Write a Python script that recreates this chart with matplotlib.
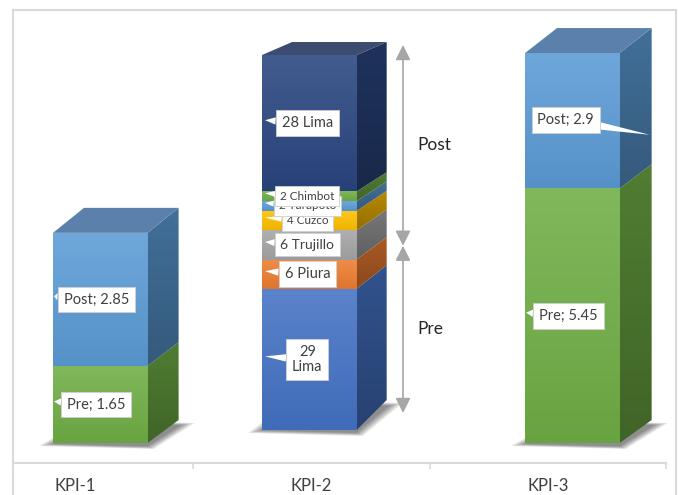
import numpy as np
import matplotlib
matplotlib.use('Agg')
import matplotlib.pyplot as plt
from matplotlib.patches import Polygon, FancyArrowPatch
from matplotlib.colors import LinearSegmentedColormap, to_rgb
from matplotlib.lines import Line2D

plt.rcParams['font.family'] = ['Lato', 'DejaVu Sans']

# KPI-1 / KPI-3: pre and post shares
kpi_names = ['KPI-1', 'KPI-2', 'KPI-3']
pre_vals = [1.65, 5.45]
post_vals = [2.85, 2.9]
pre_labels = ['Pre; 1.65', 'Pre; 5.45']
post_labels = ['Post; 2.85', 'Post; 2.9']

# KPI-2: counts per city, bottom to top (first two belong to "Pre")
city_vals = [29, 6, 6, 4, 2, 2, 28]
city_labels = ['29\nLima', '6 Piura', '6 Trujillo', '4 Cuzco', '2 Tarapoto', '2 Chimbot', '28 Lima']
n_pre = 2

# styling
W, H = 678, 495
PRE_C = '#6FAE45'
POST_C = '#5B9BD5'
city_colors = ['#4472C4', '#ED7D31', '#A5A5A5', '#FFC000', '#5B9BD5', '#70AD47', '#2A4680']
city_sizes = [10.5, 10.5, 10, 8.5, 8.5, 8.5, 10.5]
bar_x0 = [-0.093, 0.791, 1.903]
bar_w = 0.40
# depth: dx px, lift at bottom px, lift at top px
depths = [(31, 23, 25), (30, 30, 13), (32, 23, 25)]
GRID = '#d9d9d9'


def mix(c, other, t):
    c = np.array(to_rgb(c))
    return tuple(c + (np.array(to_rgb(other)) - c) * t)


def lift(a, x, y, dx, dy):
    px, py = a.transData.transform((x, y))
    return tuple(a.transData.inverted().transform((px + dx, py + dy)))


def shade(a, verts, c_top, c_bot, z):
    poly = Polygon(verts, closed=True, fc='none', ec='none', zorder=z)
    a.add_patch(poly)
    xs, ys = zip(*verts)
    cmap = LinearSegmentedColormap.from_list('g', [c_top, c_bot])
    im = a.imshow(np.linspace(0, 1, 64).reshape(-1, 1), cmap=cmap, aspect='auto',
                  origin='upper', interpolation='bilinear', zorder=z,
                  extent=(min(xs), max(xs), min(ys), max(ys)))
    im.set_clip_path(poly)


def soft_shadow(a, x0, x1, dx, up):
    pts = np.array([a.transData.transform(p) for p in
                    [(x0, 0), (x1, 0), lift(a, x1, 0, dx, up), lift(a, x0, 0, dx, up)]])
    pts = pts + np.array([[-14, -3], [6, -6], [16, -3], [0, 0]])
    c = pts.mean(axis=0)
    for k in range(6):
        p = c + (pts - c) * (1.0 - 0.035 * k)
        a.add_patch(Polygon(a.transData.inverted().transform(p), fc='black', ec='none',
                            alpha=0.09, zorder=1))


def draw_box(a, x0, values, colors, depth, top_color):
    dx, up_bot, up_top = depth
    total = sum(values)
    x1 = x0 + bar_w

    def up(v):
        return up_bot + (up_top - up_bot) * v / total

    soft_shadow(a, x0, x1, dx, up_bot)
    base = 0
    for v, c in zip(values, colors):
        top = base + v
        shade(a, [(x0, base), (x1, base), (x1, top), (x0, top)],
              mix(c, 'white', 0.12), mix(c, 'black', 0.06), 2)
        side = [(x1, base), (x1, top), lift(a, x1, top, dx, up(top)), lift(a, x1, base, dx, up(base))]
        shade(a, side, mix(c, 'black', 0.28), mix(c, 'black', 0.42), 2)
        base = top
    face = [(x0, total), (x1, total), lift(a, x1, total, dx, up(total)), lift(a, x0, total, dx, up(total))]
    a.add_patch(Polygon(face, fc=top_color, ec='none', zorder=2))
    return up


def callout(a, tip, text, off, size):
    a.annotate(text, xy=tip, xytext=(off[0] * 0.72, off[1] * 0.72), textcoords='offset points',
               ha='center', va='center', fontsize=size, color='#404040', linespacing=1.15,
               bbox=dict(boxstyle='square,pad=0.4', fc='white', ec='#cfcfcf', lw=0.6),
               arrowprops=dict(arrowstyle='wedge,tail_width=0.5,shrink_factor=0.5',
                               fc='white', ec='none', shrinkA=0, shrinkB=0),
               zorder=5, annotation_clip=False)


fig = plt.figure(figsize=(W / 100, H / 100), dpi=100)
ax = fig.add_axes([13 / W, (H - 463) / H, (676 - 13) / W, 463 / H])
xlo, xhi = (13 - 75) / 236.5, (676 - 75) / 236.5
ax.set_xlim(xlo, xhi)
ax.set_ylim(-20 / 46.7, 443 / 46.7)
ax2 = ax.twinx()
ax2.set_ylim(-33 / 4.87, 430 / 4.87)
ax.set_autoscale_on(False)
ax2.set_autoscale_on(False)

# KPI-1 and KPI-3
for i, bi in enumerate([0, 2]):
    x0 = bar_x0[bi]
    draw_box(ax, x0, [pre_vals[i], post_vals[i]], [PRE_C, POST_C], depths[bi], '#5A80AB')
    w_px = bar_w * 236.5
    callout(ax, lift(ax, x0, pre_vals[i] / 2, 1, 3), pre_labels[i], (w_px / 2 - 5, -3), 10.5)
    mid = pre_vals[i] + post_vals[i] / 2
    if bi == 0:
        callout(ax, lift(ax, x0, mid, 1, 3), post_labels[i], (w_px / 2 - 5, -3), 10.5)
    else:
        dx = depths[bi][0]
        callout(ax, lift(ax, x0 + bar_w, mid, dx - 2, -14), post_labels[i], (-84, 15), 10.5)

# KPI-2 city stack
x0 = bar_x0[1]
up2 = draw_box(ax2, x0, city_vals, city_colors, depths[1], '#3C4B70')
base = 0
for v, lab, s in zip(city_vals, city_labels, city_sizes):
    mid = base + v / 2
    callout(ax2, lift(ax2, x0, mid, 3, 3), lab, (bar_w * 236.5 / 2 - 5, -3), s)
    base += v

# Pre / Post range arrows beside KPI-2
total = sum(city_vals)
pre_total = sum(city_vals[:n_pre])
xa = (403 - 75) / 236.5


def arrow_pt(v):
    return lift(ax2, xa, v, 0, 17 + (10 - 17) * v / total)


for lo, hi, name in [(0, pre_total, 'Pre'), (pre_total, total, 'Post')]:
    ax2.add_patch(FancyArrowPatch(arrow_pt(lo), arrow_pt(hi),
                                  arrowstyle='<|-|>,head_length=0.9,head_width=0.45',
                                  mutation_scale=10, color='#a6a6a6', lw=1.2,
                                  shrinkA=0, shrinkB=0, zorder=3))
    ym = arrow_pt((lo + hi) / 2)[1]
    ax2.text(lift(ax2, xa, 0, 14, 0)[0], ym, name, ha='left', va='center',
             fontsize=12.5, color='#262626')

# category axis
for a in (ax, ax2):
    for sp in a.spines.values():
        sp.set_visible(False)
ax2.set_yticks([])
ax.set_yticks([])
ax.spines['bottom'].set_visible(True)
ax.spines['bottom'].set_color(GRID)
ax.spines['bottom'].set_linewidth(1.5)
ax.spines['bottom'].set_bounds(xlo, 2.5)
ax.set_xticks([0.5, 1.5, 2.5])
ax.set_xticklabels([])
ax.tick_params(axis='x', which='major', length=4, color=GRID, width=1.2)
ax.set_xticks([0, 1, 2], minor=True)
ax.set_xticklabels(kpi_names, minor=True)
ax.tick_params(axis='x', which='minor', length=0, pad=11, labelsize=12, labelcolor='#404040')

# outer frame
for xs, ys in [([13 / W, 13 / W], [0, 1 - 10 / H]), ([676 / W, 676 / W], [0, 1 - 10 / H]),
               ([13 / W, 676 / W], [1 - 10 / H, 1 - 10 / H])]:
    fig.add_artist(Line2D(xs, ys, transform=fig.transFigure, color=GRID, lw=1.5))

fig.savefig('out.png', dpi=100, facecolor='white')
